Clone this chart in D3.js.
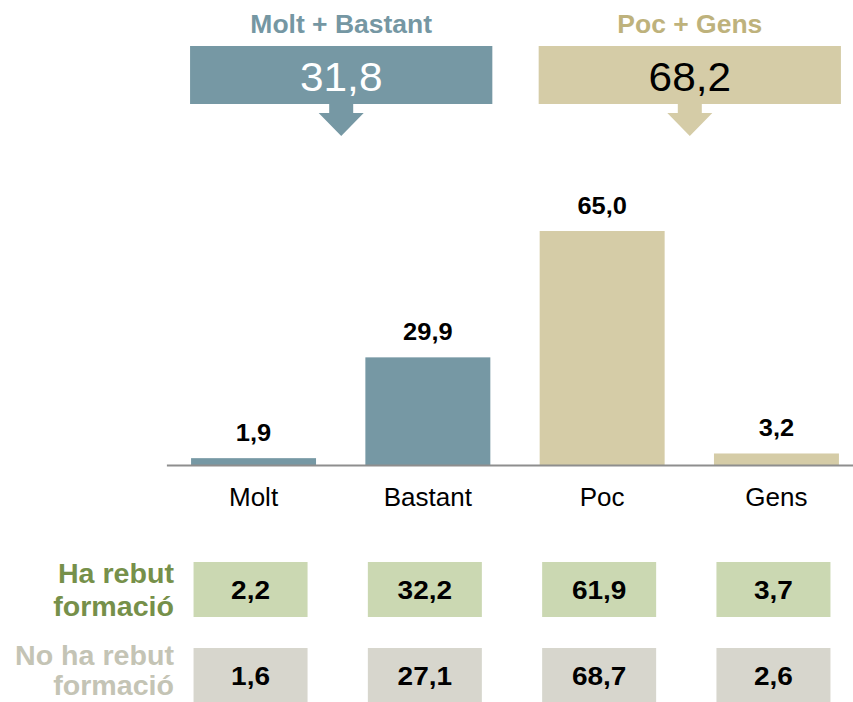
<!DOCTYPE html>
<html>
<head>
<meta charset="utf-8">
<script src="https://cdn.jsdelivr.net/npm/d3@7"></script>
<style>
  html, body { margin: 0; padding: 0; background: #ffffff; }
  svg { display: block; font-family: "Liberation Sans", Arial, sans-serif; }
</style>
</head>
<body>
<svg id="chart" width="853" height="702"></svg>
<script>
// Valoració global i per grup de formació
const categories = ["Molt", "Bastant", "Poc", "Gens"];
const totalValues = [1.9, 29.9, 65.0, 3.2];
const trainedValues = [2.2, 32.2, 61.9, 3.7];
const untrainedValues = [1.6, 27.1, 68.7, 2.6];
const groupNames = ["Molt + Bastant", "Poc + Gens"];
const groupMembers = [["Molt", "Bastant"], ["Poc", "Gens"]];
const rowLabels = [["Ha rebut", "formació"], ["No ha rebut", "formació"]];

const teal = "#7698a4";
const khaki = "#d5cca7";
const barColor = c => (c === "Molt" || c === "Bastant") ? teal : khaki;

const svg = d3.select("#chart");
const fmt = v => v.toFixed(1).replace(".", ",");

const x = d3.scaleBand()
  .domain(categories)
  .range([166.4, 863.6])
  .paddingInner(0.283)
  .paddingOuter(0.1415);

const y = d3.scaleLinear().domain([0, 65]).range([465, 231]);

// text with a horizontal stretch factor
function label(g, px, py, txt, opt) {
  return g.append("text")
    .attr("transform", `translate(${px},${py}) scale(${opt.sx || 1},1)`)
    .attr("text-anchor", opt.anchor || "middle")
    .attr("font-size", opt.size)
    .attr("font-weight", opt.weight || "normal")
    .attr("fill", opt.fill || "#000")
    .text(txt);
}

// Group headers with arrow boxes
const headerTitleColors = ["#7597a3", "#beb27c"];
const headerBoxColors = [teal, khaki];
const headerValueColors = ["#ffffff", "#000000"];
groupNames.forEach((name, i) => {
  const members = groupMembers[i];
  const x0 = x(members[0]) - 1;
  const x1 = x(members[members.length - 1]) + x.bandwidth() + 2;
  const cx = (x0 + x1) / 2;
  const sum = d3.sum(members, m => totalValues[categories.indexOf(m)]);
  const g = svg.append("g");
  label(g, cx, 33, name, { size: 25, weight: "bold", sx: 1.06, fill: headerTitleColors[i] });
  g.append("rect")
    .attr("x", x0).attr("y", 46)
    .attr("width", x1 - x0).attr("height", 58)
    .attr("fill", headerBoxColors[i]);
  g.append("path")
    .attr("d", `M${cx - 12},104 L${cx + 12},104 L${cx + 12},113 L${cx + 22.5},113 L${cx},136 L${cx - 22.5},113 L${cx - 12},113 Z`)
    .attr("fill", headerBoxColors[i]);
  label(g, cx, 91, fmt(sum), { size: 40, sx: 1.06, fill: headerValueColors[i] });
});

// Bars
svg.append("g").selectAll("rect")
  .data(categories)
  .join("rect")
  .attr("x", c => x(c))
  .attr("y", (c, i) => y(totalValues[i]))
  .attr("width", x.bandwidth())
  .attr("height", (c, i) => y(0) - y(totalValues[i]))
  .attr("fill", barColor);

// Value labels
const vl = svg.append("g");
categories.forEach((c, i) => {
  label(vl, x(c) + x.bandwidth() / 2, y(totalValues[i]) - 17, fmt(totalValues[i]),
    { size: 24, weight: "bold", sx: 1.06 });
});

// Category axis
const axis = svg.append("g")
  .attr("transform", "translate(0,465)")
  .call(d3.axisBottom(x).tickSize(0).tickPadding(22.5));
axis.select(".domain").attr("stroke", "#8e8e8e").attr("stroke-width", 2);
axis.selectAll(".tick text")
  .attr("font-size", 26)
  .attr("font-family", "Liberation Sans, Arial, sans-serif")
  .attr("fill", "#000");

// Breakdown table by training
const rows = [trainedValues, untrainedValues];
const rowBoxColors = ["#cbd8b2", "#d7d6cd"];
const rowLabelColors = ["#76904a", "#c4c4b5"];
const rowTops = [562, 648];
const labelBaselines = [[583, 616], [665, 695]];
rows.forEach((vals, r) => {
  const g = svg.append("g");
  const top = rowTops[r];
  rowLabels[r].forEach((line, k) => {
    label(g, 174, labelBaselines[r][k], line, { size: 27, weight: "bold", sx: 1.06, anchor: "end", fill: rowLabelColors[r] });
  });
  categories.forEach((c, i) => {
    const cx = x(c) + x.bandwidth() / 2 - 3;
    g.append("rect")
      .attr("x", cx - 57).attr("y", top)
      .attr("width", 114).attr("height", 55)
      .attr("fill", rowBoxColors[r]);
    label(g, cx, top + 37, fmt(vals[i]), { size: 25, weight: "bold", sx: 1.12 });
  });
});
</script>
</body>
</html>
